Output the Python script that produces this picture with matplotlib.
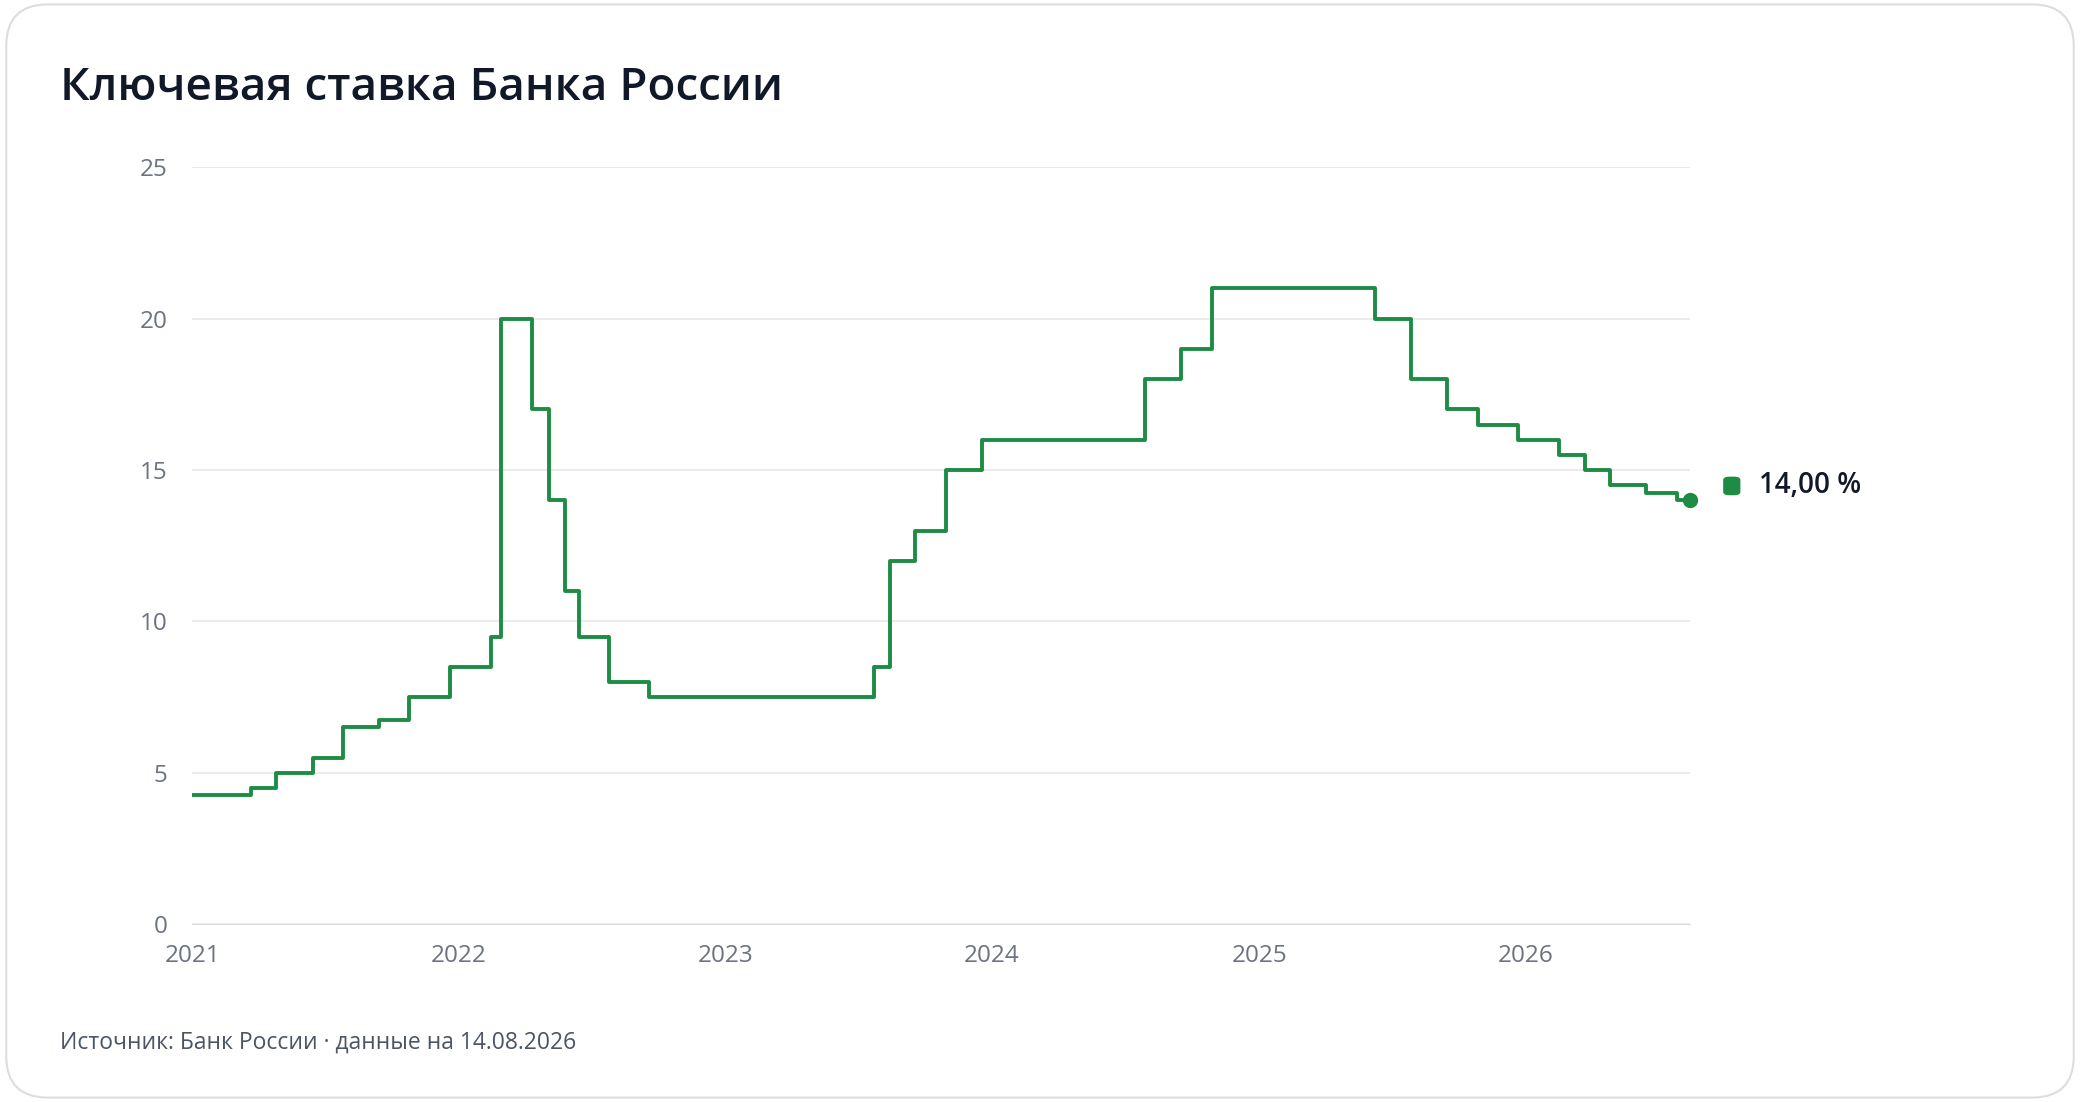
import matplotlib
matplotlib.use("Agg")
import matplotlib.pyplot as plt
from matplotlib.patches import FancyBboxPatch
import pandas as pd

dates = ["2021-01-01","2021-03-22","2021-04-26","2021-06-15","2021-07-26","2021-09-13","2021-10-25",
         "2021-12-20","2022-02-14","2022-02-28","2022-04-11","2022-05-04","2022-05-27","2022-06-14",
         "2022-07-25","2022-09-19","2023-07-24","2023-08-15","2023-09-18","2023-10-30","2023-12-18",
         "2024-07-29","2024-09-16","2024-10-28","2025-06-09","2025-07-28","2025-09-15","2025-10-27",
         "2025-12-22","2026-02-16","2026-03-23","2026-04-27","2026-06-15","2026-07-27","2026-08-14"]
rates = [4.25,4.5,5.0,5.5,6.5,6.75,7.5,8.5,9.5,20,17,14,11,9.5,8.0,7.5,8.5,12,13,15,16,18,19,21,
         20,18,17,16.5,16,15.5,15,14.5,14.25,14.0,14.0]
yticks = [0,5,10,15,20,25]
years = [2021,2022,2023,2024,2025,2026]

plt.rcParams['font.family'] = ['Open Sans', 'DejaVu Sans']
fig = plt.figure(figsize=(20.8,11.02), dpi=100)
fig.patches.append(FancyBboxPatch((0.003,0.004),0.994,0.992,boxstyle="round,pad=0,rounding_size=0.02",
    transform=fig.transFigure, facecolor="white", edgecolor="#dddddd", lw=1.5,
    mutation_aspect=2080/1102, zorder=-10))
W,H=1568,830
ax = fig.add_axes([145/W, 1-696/H, (1274-145)/W, (696-126)/H])
ax.patch.set_alpha(0)
x = pd.to_datetime(dates)
ax.step(x, rates, where="post", color="#1e8c45", lw=2.8)
ax.plot(x[-1], rates[-1], 'o', color="#1e8c45", ms=10, clip_on=False)
ax.set_xlim(pd.Timestamp("2021-01-01"), pd.Timestamp("2026-08-14"))
ax.set_ylim(0,25)
ax.set_yticks(yticks)
ax.set_xticks([pd.Timestamp(f"{y}-01-01") for y in years])
ax.set_xticklabels([str(y) for y in years])
ax.grid(axis='y', color="#e8e8e8", lw=1.2)
ax.set_axisbelow(True)
for s in ax.spines.values(): s.set_visible(False)
ax.spines['bottom'].set_visible(True); ax.spines['bottom'].set_color("#dddddd")
ax.tick_params(length=0, labelsize=17.5, colors="#6b7280", pad=14)
ax.tick_params(axis='y', pad=18)
fig.text(45/W, 1-67/H, "Ключевая ставка Банка России", fontsize=33, fontweight='semibold',
         color="#111827", va='center')
fig.text(45/W, 1-785/H, "Источник: Банк России · данные на 14.08.2026", fontsize=16.5,
         color="#4b5563", va='center')
fig.patches.append(FancyBboxPatch((1299/W, 1-373/H), 13/W, 14/H, boxstyle="round,pad=0,rounding_size=0.003",
    transform=fig.transFigure, facecolor="#1e8c45", edgecolor="none"))
fig.text(1326/W, 1-366/H, "14,00 %", fontsize=20, fontweight='semibold', color="#111827", va='center')
fig.savefig("out.png", dpi=100)
